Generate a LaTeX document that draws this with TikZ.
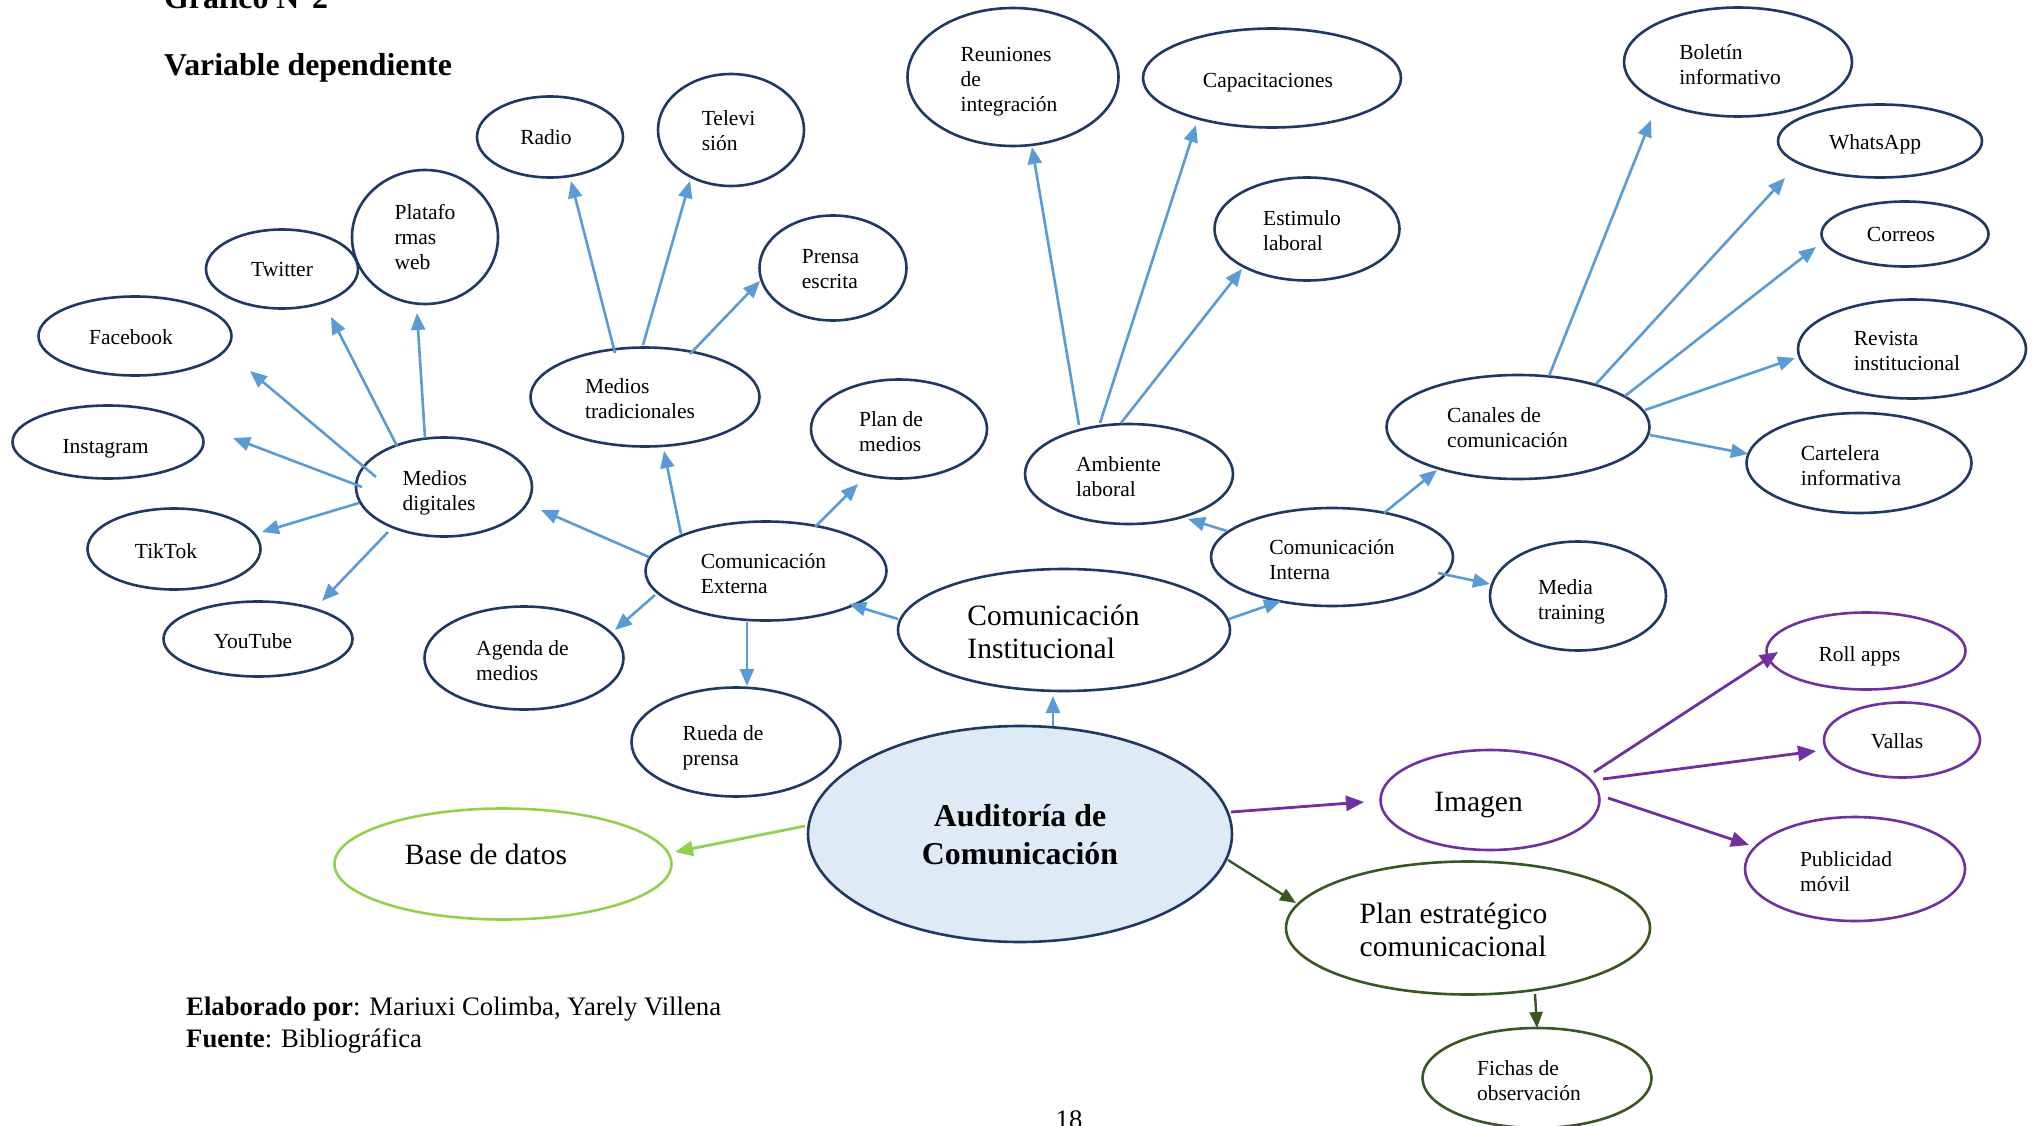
\documentclass[tikz,border=0pt]{standalone}
\usepackage{fontspec}
\setmainfont{Liberation Serif}
\usetikzlibrary{arrows.meta,shapes.geometric,calc}
\definecolor{navy}{HTML}{1F3864}
\definecolor{lblue}{HTML}{5B9BD5}
\definecolor{purp}{HTML}{7030A0}
\definecolor{dgreen}{HTML}{385723}
\definecolor{lgreen}{HTML}{92D050}
\definecolor{aufill}{HTML}{DEEAF6}
% text block: #1 lines, #2 downward shift, #3 trailing space (shifts text left by half)
\newcommand\btxt[3]{\raisebox{-#2}[\height][\depth]{\begin{tabular}{@{}l@{}}#1\end{tabular}\hspace*{#3}}}
\tikzset{
  bub/.style={ellipse, draw=navy, line width=2.6pt, inner sep=0pt, align=left, text=black,
    font=\fontsize{21.5}{25}\selectfont},
  pbub/.style={bub, draw=purp},
  gbub/.style={bub, draw=dgreen},
  midfont/.style={font=\fontsize{29.5}{33}\selectfont},
  arrB/.style={draw=lblue, line width=2.6pt, -{Triangle[length=17pt,width=14pt]}},
  arrP/.style={draw=purp, line width=2.8pt, -{Triangle[length=18pt,width=15pt]}},
  arrG/.style={draw=dgreen, line width=2.4pt, -{Triangle[length=16pt,width=13pt]}},
  arrL/.style={draw=lgreen, line width=2.8pt, -{Triangle[length=18pt,width=15pt]}},
  txt/.style={inner sep=0pt, anchor=base west, text=black}
}
\begin{document}
\begin{tikzpicture}[x=1pt,y=-1pt]
\useasboundingbox (0,0) rectangle (2040,1126);
\clip (0,0) rectangle (2040,1126);
\fill[white] (0,0) rectangle (2040,1126);

% titles
\node[txt, font=\bfseries\fontsize{31.8}{36}\selectfont] (t1) at (164,9) {Gráfico N°2};
\node[txt, font=\bfseries\fontsize{31.8}{36}\selectfont] (t2) at (164,76) {Variable dependiente};

% blue cluster nodes
\node[bub, minimum width=146pt, minimum height=81pt] (ra) at (550,137) {\btxt{Radio}{3pt}{8pt}};
\node[bub, minimum width=146pt, minimum height=112pt] (tv) at (731,130) {\btxt{Televi\\sión}{3pt}{5pt}};
\node[bub, minimum width=147pt, minimum height=105pt] (pe) at (833,268) {\btxt{Prensa\\escrita}{3pt}{5pt}};
\node[bub, minimum width=146pt, minimum height=134pt] (pw) at (425,237) {\btxt{Platafo\\rmas\\web}{3pt}{0pt}};
\node[bub, minimum width=152pt, minimum height=79pt] (tw) at (282,269) {\btxt{Twitter}{3pt}{0pt}};
\node[bub, minimum width=193pt, minimum height=79pt] (fb) at (135,336) {\btxt{Facebook}{3pt}{8pt}};
\node[bub, minimum width=191pt, minimum height=73pt] (ig) at (108,442) {\btxt{Instagram}{6pt}{5pt}};
\node[bub, minimum width=173pt, minimum height=81pt] (tt) at (174,549) {\btxt{TikTok}{4pt}{16pt}};
\node[bub, minimum width=189pt, minimum height=75pt] (yt) at (258,639) {\btxt{YouTube}{4pt}{10pt}};
\node[bub, minimum width=176pt, minimum height=99pt] (md) at (444,487) {\btxt{Medios\\digitales}{6pt}{10pt}};
\node[bub, minimum width=229pt, minimum height=99pt] (mt) at (645,397) {\btxt{Medios\\tradicionales}{4pt}{10pt}};
\node[bub, minimum width=176pt, minimum height=99pt] (pm) at (899,429) {\btxt{Plan de\\medios}{5pt}{16pt}};
\node[bub, minimum width=241pt, minimum height=99pt] (ce) at (766,571) {\btxt{Comunicación\\Externa}{5pt}{5pt}};
\node[bub, minimum width=199pt, minimum height=103pt] (ag) at (524,658) {\btxt{Agenda de\\medios}{5pt}{3pt}};
\node[bub, minimum width=209pt, minimum height=109pt] (rp) at (736,742) {\btxt{Rueda de\\prensa}{6pt}{26pt}};
\node[bub, midfont, minimum width=332pt, minimum height=122pt] (ci) at (1064,630) {\btxt{Comunicación\\Institucional}{5pt}{21pt}};
\node[bub, minimum width=211pt, minimum height=138pt] (re) at (1013,77) {\btxt{Reuniones\\de\\integración}{5pt}{8pt}};
\node[bub, minimum width=258pt, minimum height=99pt] (cap) at (1272,78) {\btxt{Capacitaciones}{5pt}{8pt}};
\node[bub, minimum width=185pt, minimum height=103pt] (es) at (1307,229) {\btxt{Estimulo\\laboral}{4pt}{10pt}};
\node[bub, minimum width=208pt, minimum height=100pt] (al) at (1129,474) {\btxt{Ambiente\\laboral}{5pt}{21pt}};
\node[bub, minimum width=242pt, minimum height=98pt] (cint) at (1332,557) {\btxt{Comunicación\\Interna}{5pt}{0pt}};
\node[bub, minimum width=263pt, minimum height=104pt] (cc) at (1518,427) {\btxt{Canales de\\comunicación}{3pt}{21pt}};
\node[bub, minimum width=176pt, minimum height=109pt] (mtr) at (1578,596) {\btxt{Media\\training}{6pt}{13pt}};
\node[bub, minimum width=228pt, minimum height=109pt] (bo) at (1738,62) {\btxt{Boletín\\informativo}{5pt}{16pt}};
\node[bub, minimum width=204pt, minimum height=73pt] (wa) at (1880,141) {\btxt{WhatsApp}{4pt}{10pt}};
\node[bub, minimum width=167pt, minimum height=65pt] (co) at (1905,234) {\btxt{Correos}{3pt}{8pt}};
\node[bub, minimum width=228pt, minimum height=99pt] (rv) at (1912,349) {\btxt{Revista\\institucional}{4pt}{10pt}};
\node[bub, minimum width=225pt, minimum height=100pt] (ca) at (1859,463) {\btxt{Cartelera\\informativa}{5pt}{16pt}};

% purple cluster
\node[pbub, midfont, minimum width=219pt, minimum height=100pt] (im) at (1490,800) {\btxt{Imagen}{5pt}{23pt}};
\node[pbub, minimum width=199pt, minimum height=77pt] (rol) at (1866,651) {\btxt{Roll apps}{5pt}{13pt}};
\node[pbub, minimum width=156pt, minimum height=75pt] (va) at (1902,740) {\btxt{Vallas}{3pt}{10pt}};
\node[pbub, minimum width=220pt, minimum height=104pt] (pu) at (1855,869) {\btxt{Publicidad\\móvil}{5pt}{18pt}};

% green
\node[gbub, midfont, minimum width=364pt, minimum height=133pt] (pl) at (1468,928) {\btxt{Plan estratégico\\comunicacional}{5pt}{29pt}};
\node[gbub, minimum width=229pt, minimum height=100pt] (fi) at (1537,1078) {\btxt{Fichas de\\observación}{5pt}{16pt}};
\node[bub, draw=lgreen, midfont, minimum width=337pt, minimum height=111pt] (bd) at (503,864) {\btxt{Base de datos}{-6pt}{34pt}};

% central
\node[bub, fill=aufill, font=\bfseries\fontsize{31.8}{37.7}\selectfont,
      minimum width=424pt, minimum height=216pt] (au) at (1020,834)
      {\raisebox{-4pt}[\height][\depth]{\begin{tabular}{@{}c@{}}Auditoría de\\Comunicación\end{tabular}}};

% credits
\node[txt, font=\fontsize{26.7}{31}\selectfont] (cr1) at (186,1015) {\textbf{Elaborado por}: Mariuxi Colimba, Yarely Villena};
\node[txt, font=\fontsize{26.7}{31}\selectfont] (cr2) at (186,1047) {\textbf{Fuente}: Bibliográfica};
\node[inner sep=0pt, anchor=base, font=\fontsize{26.7}{31}\selectfont] (pg) at (1069,1128) {18};

% blue arrows
\draw[arrB] ($(md)+(-68,-10)$) -- ($(fb)+(115,35)$);
\draw[arrB] ($(md)+(-47,-41)$) -- ($(tw)+(49,48)$);
\draw[arrB] ($(md)+(-19,-49)$) -- ($(pw)+(-8,76)$);
\draw[arrB] ($(md)+(-82,0)$) -- ($(ig)+(125,-4)$);
\draw[arrB] ($(md)+(-85,16)$) -- ($(tt)+(88,-17)$);
\draw[arrB] ($(md)+(-56,45)$) -- ($(yt)+(64,-38)$);
\draw[arrB] ($(mt)+(-30,-44)$) -- ($(ra)+(21,44)$);
\draw[arrB] ($(mt)+(-2,-52)$) -- ($(tv)+(-41,51)$);
\draw[arrB] ($(mt)+(45,-43)$) -- ($(pe)+(-73,13)$);
\draw[arrB] ($(ce)+(-117,-14)$) -- ($(md)+(97,23)$);
\draw[arrB] ($(ce)+(-85,-37)$) -- ($(mt)+(19,54)$);
\draw[arrB] ($(ce)+(49,-44)$) -- ($(pm)+(-41,55)$);
\draw[arrB] ($(ce)+(-111,24)$) -- ($(ag)+(91,-28)$);
\draw[arrB] ($(ce)+(-19,51)$) -- ($(rp)+(11,-56)$);
\draw[arrB] ($(ci)+(-166,-11)$) -- ($(ce)+(83,33)$);
\draw[arrB] ($(ci)+(165,-11)$) -- ($(cint)+(-51,44)$);
\draw[arrB] ($(au)+(33,-108)$) -- ($(ci)+(-11,66)$);
\draw[arrB] ($(al)+(-50,-49)$) -- ($(re)+(19,70)$);
\draw[arrB] ($(al)+(-29,-51)$) -- ($(cap)+(-76,47)$);
\draw[arrB] ($(al)+(-8,-51)$) -- ($(es)+(-65,40)$);
\draw[arrB] ($(cint)+(-105,-26)$) -- ($(al)+(59,45)$);
\draw[arrB] ($(cint)+(52,-44)$) -- ($(cc)+(-81,43)$);
\draw[arrB] ($(cint)+(106,16)$) -- ($(mtr)+(-88,-12)$);
\draw[arrB] ($(cc)+(31,-51)$) -- ($(bo)+(-87,58)$);
\draw[arrB] ($(cc)+(78,-43)$) -- ($(wa)+(-95,37)$);
\draw[arrB] ($(cc)+(107,-31)$) -- ($(co)+(-89,13)$);
\draw[arrB] ($(cc)+(127,-17)$) -- ($(rv)+(-117,9)$);
\draw[arrB] ($(cc)+(132,8)$) -- ($(ca)+(-111,-9)$);

% purple arrows
\draw[arrP] ($(au)+(211,-22)$) -- ($(im)+(-126,2)$);
\draw[arrP] ($(im)+(104,-28)$) -- ($(rol)+(-88,1)$);
\draw[arrP] ($(im)+(113,-21)$) -- ($(va)+(-86,11)$);
\draw[arrP] ($(im)+(118,-2)$) -- ($(pu)+(-106,-24)$);

% green arrows
\draw[arrG] ($(au)+(208,26)$) -- ($(pl)+(-172,-25)$);
\draw[arrG] ($(pl)+(67,66)$) -- ($(fi)+(0,-50)$);
\draw[arrL] ($(au)+(-215,-8)$) -- ($(bd)+(172,-12)$);
\end{tikzpicture}
\end{document}
